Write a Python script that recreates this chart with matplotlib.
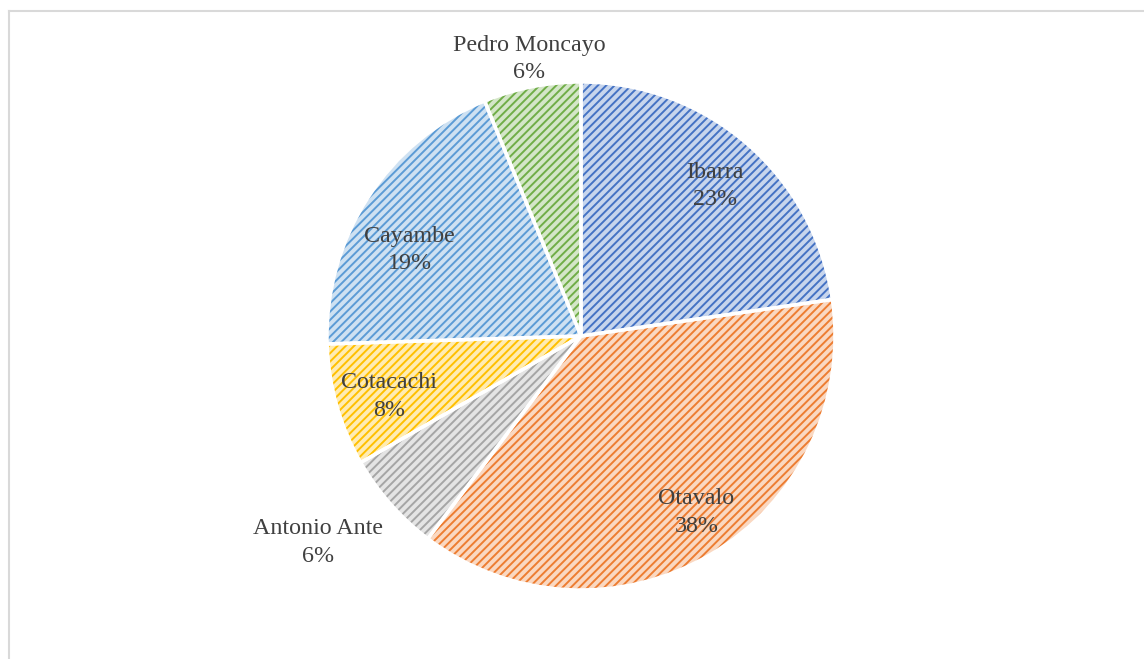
import numpy as np
import matplotlib
matplotlib.use("Agg")
import matplotlib.pyplot as plt
from matplotlib.lines import Line2D
from matplotlib.colors import to_rgb
from matplotlib.transforms import ScaledTranslation

categories = ["Ibarra", "Otavalo", "Antonio Ante", "Cotacachi", "Cayambe", "Pedro Moncayo"]
values = [22.7, 37.6, 6.4, 7.8, 19.3, 6.2]
colors = ["#4472C4", "#ED7D31", "#A5A5A5", "#FFC000", "#5B9BD5", "#70AD47"]
label_dist = [0.80, 0.82, 1.31, 0.79, 0.76, 1.12]
label_ang_off = [-0.3, 3.0, -3.7, 0.8, 5.5, -0.6]  # degrees (ccw positive)

W, H, DPI = 1144, 659, 100
fig = plt.figure(figsize=(W / DPI, H / DPI), dpi=DPI)
fig.patch.set_facecolor("white")

cx, cy, R = 581, 336, 254
ax = fig.add_axes([(cx - R) / W, (H - cy - R) / H, 2 * R / W, 2 * R / H])

def tint(c, f=0.7):
    r, g, b = to_rgb(c)
    return (r + (1 - r) * f, g + (1 - g) * f, b + (1 - b) * f)

plt.rcParams["hatch.linewidth"] = 1.4

wedges, _ = ax.pie(values, colors=[tint(c) for c in colors], startangle=90,
                   counterclock=False, radius=1.0,
                   wedgeprops=dict(linewidth=0))
for w, c in zip(wedges, colors):
    w.set_hatch("////")
    w.set_edgecolor(c)
    w.set_linewidth(0)

wedges2, _ = ax.pie(values, colors=["none"] * len(values), startangle=90,
                    counterclock=False, radius=1.0,
                    wedgeprops=dict(linewidth=2.5, edgecolor="white", facecolor="none"))

ax.set_xlim(-1, 1)
ax.set_ylim(-1, 1)
ax.set_aspect("equal")
ax.axis("off")

shift = ax.transData + ScaledTranslation(0, -3 / DPI, fig.dpi_scale_trans)
for w, name, v, d, off in zip(wedges, categories, values, label_dist, label_ang_off):
    ang = np.deg2rad((w.theta1 + w.theta2) / 2 + off)
    x, y = d * np.cos(ang), d * np.sin(ang)
    ax.text(x, y, f"{name}\n{round(v)}%", ha="center", va="center",
            family=["Liberation Serif", "DejaVu Serif"], fontsize=17.3,
            color="#404040", linespacing=1.38, clip_on=False, transform=shift)

# chart area border (top and left visible)
fig.add_artist(Line2D([8.5 / W, 1.0], [1 - 10.5 / H, 1 - 10.5 / H],
                      transform=fig.transFigure, color="#D9D9D9", lw=1.5))
fig.add_artist(Line2D([8.5 / W, 8.5 / W], [0, 1 - 10.5 / H],
                      transform=fig.transFigure, color="#D9D9D9", lw=1.5))

fig.savefig("out.png", dpi=DPI, facecolor="white")
